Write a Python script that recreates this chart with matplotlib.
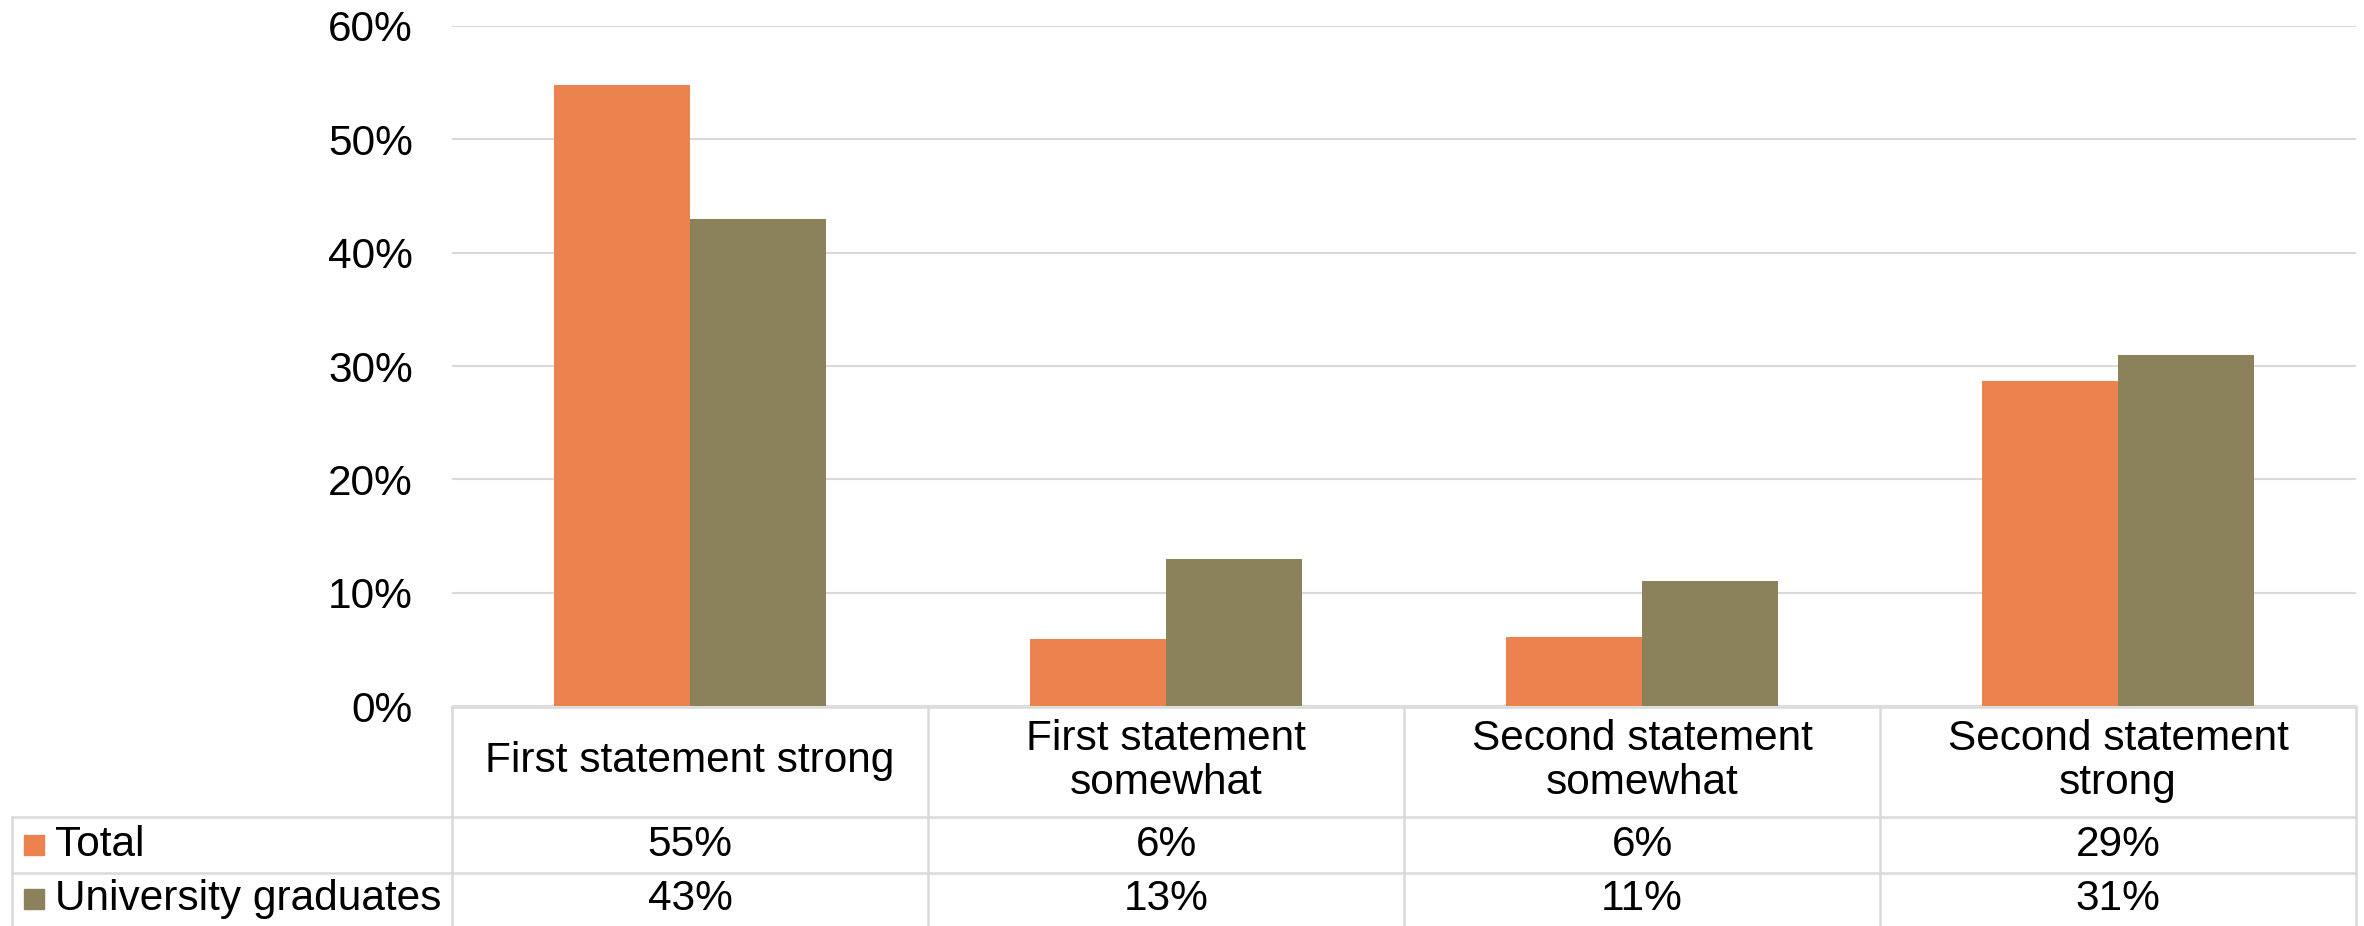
import matplotlib
matplotlib.use("Agg")
import matplotlib.pyplot as plt
from matplotlib.patches import Rectangle
from matplotlib.lines import Line2D
from matplotlib.transforms import blended_transform_factory
import numpy as np

categories = ["First statement strong", "First statement\nsomewhat",
              "Second statement\nsomewhat", "Second statement\nstrong"]
series_names = ["Total", "University graduates"]
total = [0.548, 0.059, 0.061, 0.287]
graduates = [0.43, 0.13, 0.11, 0.31]
colors = ["#EC834E", "#8B815A"]
yticks = [0, 0.1, 0.2, 0.3, 0.4, 0.5, 0.6]

plt.rcParams["font.family"] = ["Liberation Sans", "DejaVu Sans"]
FS = 30.5

W, H = 2364, 926
fig = plt.figure(figsize=(W / 100, H / 100), dpi=100)

# plot area in pixel terms
left, right, top, base = 452, 2356, 26, 706
ax = fig.add_axes([left / W, 1 - base / H, (right - left) / W, (base - top) / H])

x = np.arange(len(categories))
bw = 0.286
ax.bar(x - bw / 2, total, bw, color=colors[0], zorder=3)
ax.bar(x + bw / 2, graduates, bw, color=colors[1], zorder=3)

ax.set_xlim(-0.5, len(categories) - 0.5)
ax.set_ylim(0, 0.6)
ax.set_yticks(yticks)
ax.set_yticklabels([f"{t:.0%}" for t in yticks], fontsize=FS)
ax.tick_params(axis="y", length=0, pad=28)
ax.set_xticks([])
ax.grid(axis="y", color="#d9d9d9", linewidth=1.5, zorder=0)
for s in ax.spines.values():
    s.set_visible(False)

# data table under the chart
def fy(py):
    return 1 - py / H

grid_kw = dict(color="#d9d9d9", linewidth=1.8)
tr = blended_transform_factory(ax.transData, fig.transFigure)
tbl_top, row1, row2, tbl_bot = 707, 817, 873, 926

for k in range(len(categories) + 1):
    fig.add_artist(Line2D([k - 0.5, k - 0.5], [fy(tbl_top), fy(tbl_bot)], transform=tr, **grid_kw))
fig.add_artist(Line2D([left / W, right / W], [fy(tbl_top), fy(tbl_top)], transform=fig.transFigure, **grid_kw))
for py in (row1, row2):
    fig.add_artist(Line2D([12 / W, right / W], [fy(py), fy(py)], transform=fig.transFigure, **grid_kw))
fig.add_artist(Line2D([12 / W, 12 / W], [fy(row1), fy(tbl_bot)], transform=fig.transFigure, **grid_kw))

for i, cat in enumerate(categories):
    fig.text(i, fy(761), cat, transform=tr, ha="center", va="center",
             fontsize=FS, linespacing=1.15)

rows = [total, graduates]
row_mid = [845, 899]
for r, (name, vals) in enumerate(zip(series_names, rows)):
    ym = row_mid[r]
    fig.add_artist(Rectangle((24 / W, fy(ym + 10)), 20 / W, 20 / H,
                             transform=fig.transFigure, color=colors[r]))
    fig.text(55 / W, fy(ym), name, ha="left", va="center", fontsize=FS)
    for i, v in enumerate(vals):
        fig.text(i, fy(ym), f"{v:.0%}", transform=tr, ha="center", va="center", fontsize=FS)

fig.savefig("out.png", dpi=100)
